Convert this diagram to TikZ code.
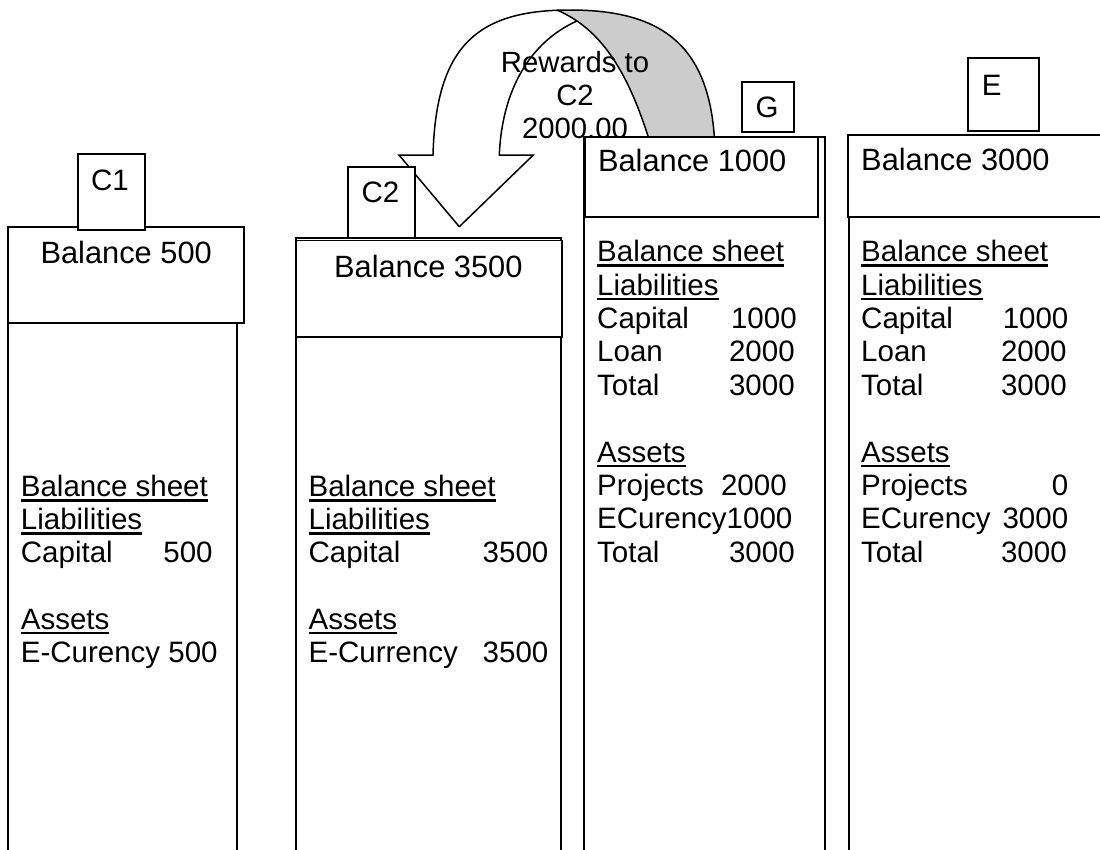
\documentclass[tikz,border=0pt]{standalone}
\usepackage{fontspec}
\setmainfont{Liberation Sans}
\newcommand\myul[1]{\setbox0\hbox{#1}\rlap{\rule[-4.8pt]{\wd0}{2.2pt}}\box0}
\newcommand\rw[3]{\hbox to #1pt{#2\hfil #3}}
\tikzset{
  ln/.style={line width=1.5pt},
  boxw/.style={draw, line width=1.5pt, fill=white},
  body/.style={inner sep=0pt, anchor=base west, font=\fontsize{29.5}{33}\selectfont},
  head/.style={inner sep=0pt, font=\fontsize{30.8}{34}\selectfont},
  arrtxt/.style={inner sep=0pt, anchor=base, font=\fontsize{29.3}{33}\selectfont},
}
\begin{document}
\begin{tikzpicture}[x=1pt,y=-1pt]
\clip (0,0) rectangle (1100,849);
\fill[white] (0,0) rectangle (1100,849);
% ---- curved arrow ----
\fill[black!20] (556.7,10) -- (570,10) .. controls (662,10) and (712,45) .. (715,150) -- (648.3,150) -- (648.3,137) .. controls (630,80) and (605,30) .. (556.7,10) -- cycle;
\draw[ln, line join=miter] (459.3,226.7) -- (399,155) -- (433,155) .. controls (436,45) and (478,10) .. (570,10) .. controls (662,10) and (712,45) .. (715,150);
\draw[ln, line join=miter] (459.3,226.7) -- (533.3,155) -- (499.3,155) .. controls (502,90) and (530,42) .. (577,21);
\draw[ln] (648.3,150) -- (648.3,137) .. controls (630,80) and (605,30) .. (556.7,10);
\node[arrtxt] (rw1) at (575,72.7) {Rewards to};
\node[arrtxt] (rw2) at (575,105) {C2};
\node[arrtxt] (rw3) at (575,138.3) {2000.00};
% ---- column C1 ----
\draw[ln] (8,227) rectangle (237,880);
\draw[boxw] (8,227) rectangle (244,323);
\node[head, anchor=base] (c1h) at (126.2,263.3) {Balance 500};
\draw[boxw] (78,154) rectangle (145,230);
\node[body] (c1lab) at (90.8,190.7) {C1};
\node[body] (c1a) at (20.7,496.7) {\myul{Balance sheet}};
\node[body] (c1b) at (20.7,529.8) {\myul{Liabilities}};
\node[body] (c1c) at (20.7,562.9) {\rw{191.8}{Capital}{500}};
\node[body] (c1d) at (20.7,629.1) {\myul{Assets}};
\node[body] (c1e) at (20.7,662.2) {E-Curency 500};
% ---- column C2 ----
\draw[ln] (296,238) rectangle (561,880);
\draw[boxw] (296,240.5) rectangle (562,337);
\node[head, anchor=base] (c2h) at (428.3,277.7) {Balance 3500};
\draw[boxw] (348,167) rectangle (415,238);
\node[body] (c2lab) at (361.3,202.7) {C2};
\node[body] (c2a) at (308.4,496.7) {\myul{Balance sheet}};
\node[body] (c2b) at (308.4,529.8) {\myul{Liabilities}};
\node[body] (c2c) at (308.4,562.9) {\rw{239.8}{Capital}{3500}};
\node[body] (c2d) at (308.4,629.1) {\myul{Assets}};
\node[body] (c2e) at (308.4,662.2) {\rw{239.8}{E-Currency}{3500}};
% ---- column G ----
\draw[ln] (584,137) rectangle (825,880);
\draw[boxw] (585,137) rectangle (818,217);
\node[head, anchor=base west] (gh) at (597.8,171.7) {Balance 1000};
\draw[boxw] (742,82) rectangle (794,132);
\node[body] (glab) at (755.3,117.3) {G};
\node[body] (ga) at (597,261.7) {\myul{Balance sheet}};
\node[body] (gb) at (597,295) {\myul{Liabilities}};
\node[body] (gc) at (597,328.4) {\rw{199.5}{Capital}{1000}};
\node[body] (gd) at (597,361.8) {\rw{197.5}{Loan}{2000}};
\node[body] (ge) at (597,395.2) {\rw{197.5}{Total}{3000}};
\node[body] (gf) at (597,462) {\myul{Assets}};
\node[body] (gg) at (597,495.4) {\rw{189.5}{Projects}{2000}};
\node[body] (gh2) at (597,528.8) {ECurency1000};
\node[body] (gi) at (597,562.2) {\rw{197.5}{Total}{3000}};
% ---- column E ----
\draw[ln] (849,135) rectangle (1120,880);
\draw[boxw] (848,135) rectangle (1120,217);
\node[head, anchor=base west] (eh) at (861,170) {Balance 3000};
\draw[boxw] (968,58) rectangle (1039,131);
\node[body] (elab) at (981.7,95) {E};
\node[body] (ea) at (861,261.7) {\myul{Balance sheet}};
\node[body] (eb) at (861,295) {\myul{Liabilities}};
\node[body] (ec) at (861,328.4) {\rw{207.2}{Capital}{1000}};
\node[body] (ed) at (861,361.8) {\rw{205.5}{Loan}{2000}};
\node[body] (ee) at (861,395.2) {\rw{205.5}{Total}{3000}};
\node[body] (ef) at (861,462) {\myul{Assets}};
\node[body] (eg) at (861,495.4) {\rw{207}{Projects}{0}};
\node[body] (eh2) at (861,528.8) {\rw{207}{ECurency}{3000}};
\node[body] (ei) at (861,562.2) {\rw{205.5}{Total}{3000}};
\end{tikzpicture}
\end{document}
